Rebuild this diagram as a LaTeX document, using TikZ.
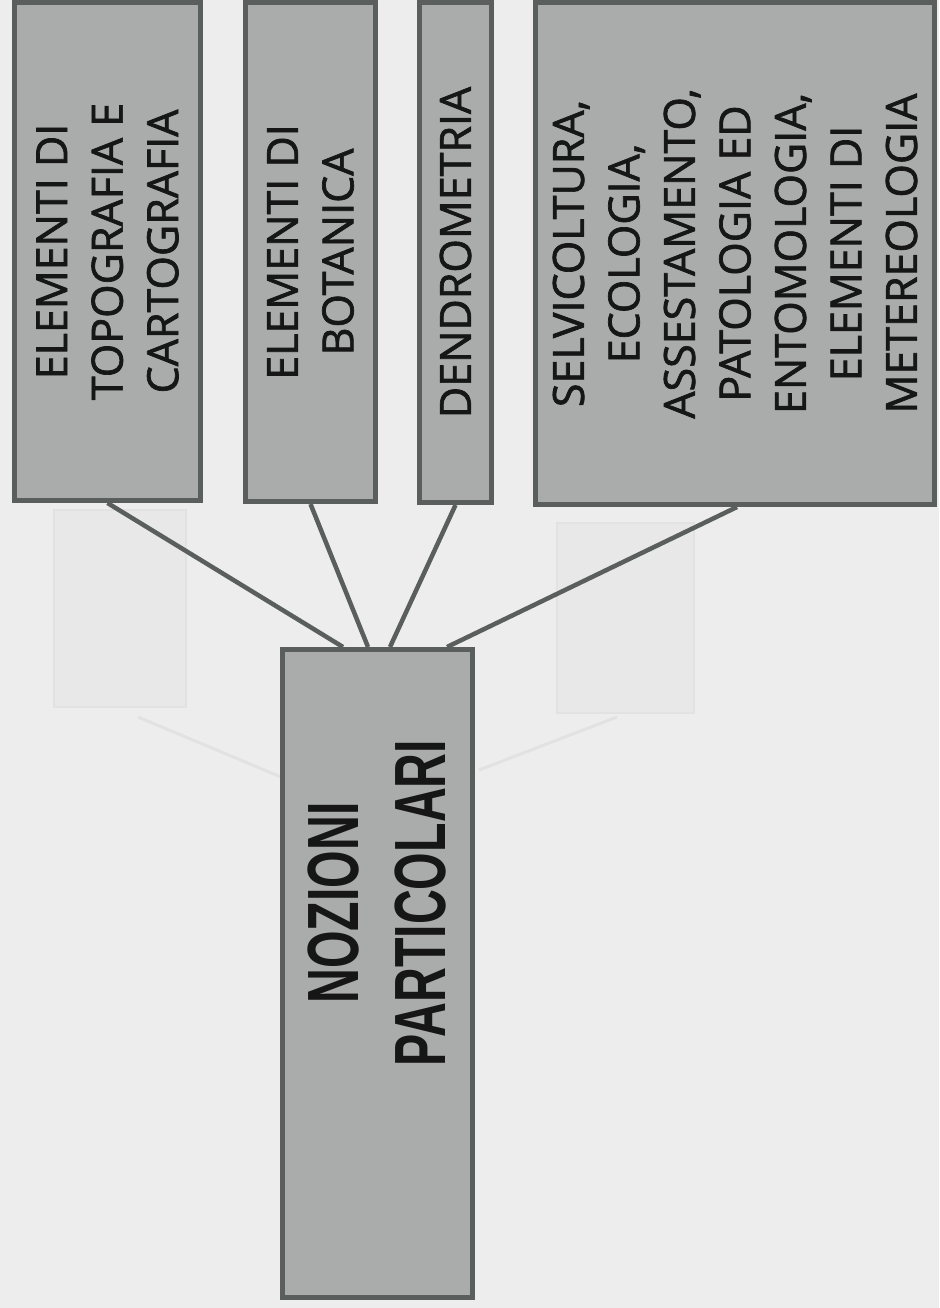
\documentclass[tikz,border=0pt]{standalone}
\usepackage{fontspec}
\usetikzlibrary{calc}
\newfontfamily\boxlabelfont[FakeBold=1.6]{Open Sans}
\newfontfamily\mainlabelfont[FakeStretch=0.665]{Liberation Sans}
\definecolor{paper}{HTML}{EDEDED}
\definecolor{ghost}{HTML}{E8E8E8}
\definecolor{ghostline}{HTML}{E2E2E2}
\definecolor{boxfill}{HTML}{AAACAB}
\definecolor{boxline}{HTML}{5A5F5D}
\definecolor{ink}{HTML}{161616}
\tikzset{
  boxnode/.style={draw=boxline, line width=5pt, fill=boxfill, inner sep=0pt, minimum width=#1},
  sidetext/.style={rotate=90, align=center, text=ink, inner sep=0pt,
    font=\boxlabelfont\fontsize{43}{55.5}\selectfont},
  maintext/.style={rotate=90, align=center, text=ink, inner sep=0pt,
    font=\mainlabelfont\bfseries\fontsize{72.6}{87}\selectfont},
  link/.style={draw=boxline, line width=4.5pt},
  ghostbox/.style={fill=ghost, draw=ghostline, line width=2pt},
  ghostlink/.style={draw=ghostline, line width=3pt}
}
\begin{document}
\begin{tikzpicture}[x=1pt,y=-1pt]
% paper
\fill[paper] (0,0) rectangle (939,1308);
\useasboundingbox (0,0) rectangle (939,1308);
% faint show-through from the back of the page
\draw[ghostbox] (54,510) rectangle (186,707);
\draw[ghostbox] (557,523) rectangle (694,713);
\draw[ghostlink] (138,717) -- (281,777);
\draw[ghostlink] (479,770) -- (617,717);
% boxes
\node[boxnode=186pt, minimum height=498pt] (b1) at (107.5,251.5) {};
\node[boxnode=130pt, minimum height=499pt] (b2) at (310.5,252) {};
\node[boxnode=72pt,  minimum height=500pt] (b3) at (455.5,252.5) {};
\node[boxnode=399pt, minimum height=502pt] (b4) at (735,253.5) {};
\node[boxnode=190pt, minimum height=648pt] (main) at (377.5,973.5) {};
% texts
\node[sidetext] (t1) at (b1.center) {ELEMENTI DI\\TOPOGRAFIA E\\CARTOGRAFIA};
\node[sidetext] (t2) at (b2.center) {ELEMENTI DI\\BOTANICA};
\node[sidetext] (t3) at (b3.center) {DENDROMETRIA};
\node[sidetext] (t4) at (b4.center) {SELVICOLTURA,\\ECOLOGIA,\\ASSESTAMENTO,\\PATOLOGIA ED\\ENTOMOLOGIA,\\ELEMENTI DI\\METEREOLOGIA};
\node[maintext] (tm) at (377.5,903) {NOZIONI\\PARTICOLARI};
% connector ends on the top of the main box
\coordinate (e1) at ($(main.north)+(-34.5,0)$);
\coordinate (e2) at ($(main.north)+(-9.5,0)$);
\coordinate (e3) at ($(main.north)+(12.5,0)$);
\coordinate (e4) at ($(main.north)+(69.5,0)$);
% connectors
\draw[link] (b1.south) -- (e1);
\draw[link] (b2.south) -- (e2);
\draw[link] (b3.south) -- (e3);
\draw[link] ($(b4.south)+(2,0)$) -- (e4);
\end{tikzpicture}
\end{document}
